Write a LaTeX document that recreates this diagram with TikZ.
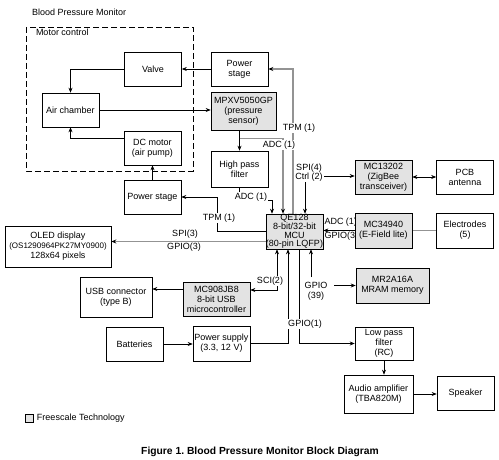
\documentclass[tikz,border=0pt]{standalone}
\usepackage{fontspec}
\setmainfont{Liberation Sans}
\usetikzlibrary{arrows.meta,calc,positioning}
\pgfdeclarelayer{back}
\pgfsetlayers{back,main}

\tikzset{
  blk/.style={draw, line width=0.6pt, fill=white, align=center, inner sep=1pt,
    minimum width=57pt, minimum height=34pt, font=\fontsize{9}{10}\selectfont},
  fsl/.style={blk, fill=gray!22},
  lbl/.style={font=\fontsize{9}{10}\selectfont, inner sep=0.8pt, fill=white, align=center},
  bus/.style={draw=gray!85, line width=1.1pt, >={Stealth[length=5pt,width=4pt,black]}},
  link/.style={line width=0.6pt},
  >={Stealth[length=5pt,width=4pt]}
}

\begin{document}
\frenchspacing
\begin{tikzpicture}[x=1pt,y=-1pt]
\useasboundingbox (0,0) rectangle (499,460);
% motor control group
\node[lbl, fill=none, anchor=west] (title) at (31,12) {Blood Pressure Monitor};
\draw[line width=0.6pt, dash pattern=on 6pt off 3pt] (26,27) rectangle (193,171);
\node[lbl, fill=none, anchor=west] (motorlbl) at (35,32) {Motor control};
\node[blk] (valve) at (153,69) {Valve};
\node[blk] (chamber) at (70.5,110) {Air chamber};
\node[blk] (dcmotor) at (152.5,148) {DC motor\\(air pump)};
% sensing and drive
\node[blk] (pwrtop) at (239.5,69) {Power\\stage};
\node[fsl, minimum width=65pt, minimum height=38pt] (sensor) at (243.5,111) {MPXV5050GP\\(pressure\\sensor)};
\node[blk, minimum height=36pt] (hpf) at (239.5,169) {High pass\\filter};
\node[blk] (pwrmid) at (152.5,197) {Power stage};
% mcu and peripherals
\node[fsl, minimum height=35pt, inner sep=0pt, font=\fontsize{9}{8.6}\selectfont] (mcu) at (294.5,231.5) {QE128\\8-bit/32-bit\\MCU\\(80-pin LQFP)};
\node[blk, minimum width=106pt, minimum height=41pt] (oled) at (58,246.5) {OLED display\\{\fontsize{8}{10}\selectfont(OS1290964PK27MY0900)}\\128x64 pixels};
\node[fsl] (zigbee) at (383.5,177) {MC13202\\(ZigBee\\transceiver)};
\node[blk] (antenna) at (465,177) {PCB\\antenna};
\node[fsl, minimum height=35pt] (efield) at (383.5,230.5) {MC34940\\(E-Field lite)};
\node[blk, minimum height=35pt] (electrodes) at (465,230.5) {Electrodes\\(5)};
\node[fsl, minimum width=73pt, minimum height=35pt] (mram) at (392.5,285.5) {MR2A16A\\MRAM memory};
\node[blk, minimum width=72pt, minimum height=40pt] (usbconn) at (116,297) {USB connector\\(type B)};
\node[fsl, minimum width=67pt] (jb8) at (216.5,299) {MC908JB8\\8-bit USB\\microcontroller};
% supply and audio
\node[blk] (batteries) at (134.5,344) {Batteries};
\node[blk, minimum height=35pt] (psupply) at (221.5,343.5) {Power supply\\(3.3, 12 V)};
\node[blk, minimum width=58pt, minimum height=33pt] (lpf) at (384,343.5) {Low pass\\filter\\(RC)};
\node[blk, minimum width=69pt, minimum height=38pt] (audio) at (378.5,394) {Audio amplifier\\(TBA820M)};
\node[blk] (speaker) at (465.5,393) {Speaker};
% legend and caption
\node[draw, fill=gray!22, minimum size=8pt, inner sep=0pt, line width=0.5pt] (legbox) at (29.5,418.5) {};
\node[lbl, fill=none, anchor=west] (legtxt) at (36,418) {Freescale Technology};
\node[font=\fontsize{10.3}{12}\selectfont\bfseries] (caption) at (260,452) {Figure 1. Blood Pressure Monitor Block Diagram};

\begin{pgfonlayer}{back}
% connectors
\draw[link,->] (pwrtop) -- (valve);
\draw[link,->] (valve.west) -| (chamber.north);
\draw[link,->] (chamber.east) -- (chamber.east -| sensor.west);
\draw[link,->] ([yshift=10pt]dcmotor.west) -| (chamber.south);
\draw[link,->] (pwrmid) -- (dcmotor);
\coordinate (split) at ($(hpf.north |- sensor.south)+(0,8)$);
\draw[link,->] (hpf.north |- sensor.south) -- (hpf.north);
\draw[bus,->] (split) -| ([xshift=-11.5pt]mcu.north);
\draw[link,->] (hpf.south) -- ++(0,13) -| ([xshift=-22.5pt]mcu.north);
\draw[bus,->] ([xshift=-1.5pt]mcu.north) |- (pwrtop.east);
\coordinate (ctrl) at (305,182);
\coordinate (spi) at (322,176);
\draw[link,->] (ctrl) -- (ctrl |- mcu.north);
\draw[link,->] (spi) -- (spi -| zigbee.west);
\draw[link,<->] (zigbee) -- (antenna);
\draw[link,->] (efield.west) -- (efield.west -| mcu.east);
\draw[bus] (electrodes) -- (efield);
\draw[link,->] (mcu.west) -- ++(-48,0) |- (pwrmid.east);
\draw[bus,->] ([yshift=-10pt]mcu.west) coordinate (oledout) -- (oledout -| oled.east);
\draw[link,<->] ([yshift=9pt]jb8.east) -| ([xshift=-17.5pt]mcu.south);
\draw[link,->] ([yshift=10pt]jb8.west) coordinate (usbout) -- (usbout -| usbconn.east);
\draw[link,->] (psupply.east) -| ([xshift=-6.5pt]mcu.south);
\draw[link,->] ([xshift=4.5pt]mcu.south) |- (lpf.west);
\coordinate (gpioup) at (311,277);
\draw[link,->] (gpioup) -- (gpioup |- mcu.south);
\coordinate (gpioout) at (334,285.5);
\draw[link,->] (gpioout) -- (gpioout -| mram.west);
\draw[link,->] (batteries.east) -- (batteries.east -| psupply.west);
\draw[link,->] (lpf.south) -- (lpf.south |- audio.north);
\draw[link,->] (audio.east) -- (audio.east -| speaker.west);
% connector labels
\node[lbl] (tpmup) at (299,128) {TPM (1)};
\node[lbl] (adcsens) at (279,145) {ADC (1)};
\node[lbl] (adchpf) at (251,197) {ADC (1)};
\node[lbl] (spilbl) at (309,168) {SPI(4)};
\node[lbl] (ctrllbl) at (309,177) {Ctrl (2)};
\node[lbl] (tpmmid) at (219,218) {TPM (1)};
\node[lbl] (spi3) at (185,234) {SPI(3)};
\node[lbl] (gpio3) at (184,247.5) {GPIO(3)};
\node[lbl, fill=none, anchor=west] (adcef) at (323.5,222) {ADC (1)};
\node[lbl, fill=none, anchor=west] (gpioef) at (323.5,236) {GPIO(3)};
\node[lbl] (scilbl) at (270,281) {SCI(2)};
\node[lbl] (gpio39) at (316,291.5) {GPIO\\(39)};
\node[lbl] (gpio1) at (305,324) {GPIO(1)};
\end{pgfonlayer}
\end{tikzpicture}
\end{document}
